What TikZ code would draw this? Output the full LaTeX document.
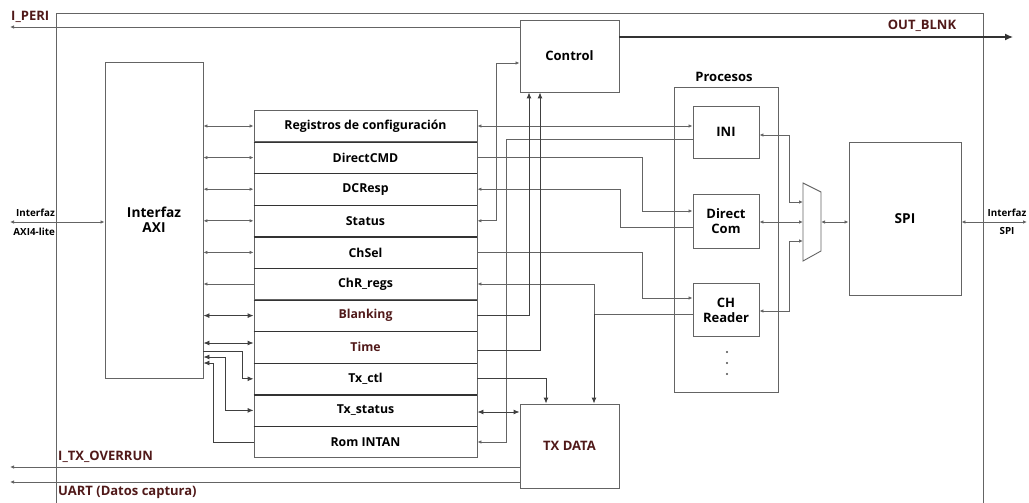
\documentclass[tikz,border=0pt]{standalone}
\usepackage{fontspec}
\setmainfont{Open Sans}
\usetikzlibrary{arrows.meta,calc}
\definecolor{sigred}{RGB}{80,25,25}
\definecolor{wire}{RGB}{100,100,100}
\begin{document}
\begin{tikzpicture}[x=1pt,y=-1pt,
  txt/.style={inner sep=0pt,font=\fontsize{13}{15}\selectfont\bfseries},
  blk/.style={txt,draw=wire,line width=0.9pt,align=center},
  reg/.style={blk,minimum width=223pt,minimum height=31.6pt,font=\fontsize{12.3}{14}\selectfont\bfseries},
  small/.style={txt,font=\fontsize{9.8}{11}\selectfont\bfseries},
  wir/.style={draw=wire,line width=0.85pt},
  sm/.style={wir,-{Latex[length=4pt,width=3.5pt]}},
  smb/.style={wir,{Latex[length=4pt,width=3.5pt]}-{Latex[length=4pt,width=3.5pt]}},
  bg/.style={draw=black!75,line width=0.9pt,-{Latex[length=6pt,width=5pt]}},
  bgb/.style={draw=black!75,line width=0.9pt,{Latex[length=6pt,width=5pt]}-{Latex[length=6pt,width=5pt]}},
  sig/.style={txt,text=sigred}]
\useasboundingbox (0,0) rectangle (1029,503);
% outer frame
\draw[wire,line width=0.9pt] (56,503) -- (56,13) -- (983,13) -- (983,503);

% blocks
\node[blk,minimum width=98pt,minimum height=316pt,font=\fontsize{13.7}{15}\selectfont\bfseries] (axi) at (154,220) {Interfaz\\AXI};
\foreach \t [count=\i] in {Registros de configuración,DirectCMD,DCResp,Status,ChSel,ChR\_regs,{\color{sigred}Blanking},{\color{sigred}Time},Tx\_ctl,Tx\_status,Rom INTAN}
  \node[reg] (r\i) at (365.5,{126+31.6*(\i-1)}) {\t};
\foreach \i in {1,...,10}
  \draw[black!80,line width=1.2pt] (r\i.south west) -- (r\i.south east);
\node[blk,minimum width=99pt,minimum height=72pt] (ctrl) at (569.5,56) {Control};
\node[blk,minimum width=99pt,minimum height=84pt,text=sigred] (txd) at (569.5,446) {TX DATA};
\node[blk,minimum width=104pt,minimum height=305pt] (proc) at (726,239.5) {};
\node[txt] (procl) at (724,77) {Procesos};
\node[blk,minimum width=66pt,minimum height=52pt] (ini) at (726,132) {INI};
\node[blk,minimum width=66pt,minimum height=54pt] (dcom) at (726,221) {Direct\\Com};
\node[blk,minimum width=66pt,minimum height=53pt] (chr) at (726,310) {CH\\Reader};
\foreach \y in {352,363,374}
  \fill[black!70] (727,\y) circle (1.1pt);
\node[blk,minimum width=112pt,minimum height=153pt,font=\fontsize{13.7}{15}\selectfont\bfseries] (spi) at (905,218.5) {SPI};
\draw[wire,line width=0.9pt] (803,183) -- (821,192) -- (821,251) -- (803,261) -- cycle;
\coordinate (muxa) at (803,202);
\coordinate (muxb) at (803,222);
\coordinate (muxc) at (803,241);
\coordinate (muxo) at (821,222);

% outside signals
\coordinate (iperi) at (10,27);
\coordinate (outb) at (1013,37);
\coordinate (axin) at (10,222);
\coordinate (spin) at (1027,222);
\coordinate (ovr) at (10,467);
\coordinate (uart) at (10,482);
\draw[sm] (ctrl.west |- iperi) -- (iperi);
\node[sig,anchor=west] (iperil) at (11,17) {I\_PERI};
\draw[draw=black!80,line width=1.2pt,-{Latex[length=8pt,width=7pt]}] (ctrl.east |- outb) -- (outb);
\node[sig] (outbl) at (922,26) {OUT\_BLNK};
\draw[smb] (axin) -- (axi.west |- axin);
\node[small,anchor=east] (axil1) at (55,213) {Interfaz};
\node[small,anchor=east] (axil2) at (55,232) {AXI4-lite};
\draw[smb] (spi.east |- spin) -- (spin);
\node[small] (spil1) at (1007,213) {Interfaz};
\node[small] (spil2) at (1007,231) {SPI};
\draw[sm] (txd.west |- ovr) -- (ovr);
\draw[sm] (txd.west |- uart) -- (uart);
\node[sig,anchor=west] (ovrl) at (58,457) {I\_TX\_OVERRUN};
\node[sig,anchor=west] (uartl) at (58,492) {UART (Datos captura)};

% AXI <-> registers
\foreach \i in {1,...,5}
  \draw[smb] (axi.east |- r\i.west) -- (r\i.west);
\draw[sm] (r6.west) -- (axi.east |- r6.west);
\draw[bgb] (axi.east |- r7.west) -- (r7.west);
\draw[bgb] (axi.east |- 0,343) -- (r8.west |- 0,343);
\draw[bg] (axi.east |- 0,351) -| ($(r9.west)+(-11,0)$) -- (r9.west);
\draw[bgb] (axi.east |- 0,357) -| ($(r10.west)+(-28,0)$) -- (r10.west);
\draw[bg] (r11.west) -- ($(r11.west)+(-40,0)$) |- (axi.east |- 0,363);

% registers <-> processes
\draw[smb] (r1.east) -- (ini.west |- r1.east);
\draw[sm] (ini.west |- 0,139) -| ($(r11.east)+(29,0)$) -- (r11.east);
\draw[smb] (r4.east) -- ++(19,0) |- (ctrl.west |- 0,63);
\draw[sm] (r2.east) -- ++(165,0) |- (dcom.west |- 0,211);
\draw[sm] (dcom.west |- 0,227) -| ($(r3.east)+(143,0)$) -- (r3.east);
\draw[sm] (r5.east) -- ++(165,0) |- (chr.west |- 0,298);
\coordinate (chj) at (594,314);
\draw[wir] (chr.west |- chj) -- (chj);
\draw[sm] (chj) |- (r6.east);
\draw[bg] (chj) -- (txd.north -| chj);
\draw[bg] (r7.east) -| (ctrl.south -| 529,0);
\draw[bg] (r8.east |- 0,350) -| (ctrl.south -| 540,0);
\draw[bg] (r9.east) -| (txd.north -| 546,0);
\draw[bgb] (r10.east |- 0,412) -- (txd.west |- 0,412);

% processes <-> mux <-> SPI
\draw[smb] (ini.east |- 0,135) -| ($(muxa)+(-14,0)$) -- (muxa);
\draw[smb] (dcom.east |- muxb) -- (muxb);
\draw[smb] (chr.east |- 0,311) -| ($(muxc)+(-14,0)$) -- (muxc);
\draw[smb] (muxo) -- (spi.west |- muxo);
\end{tikzpicture}
\end{document}
